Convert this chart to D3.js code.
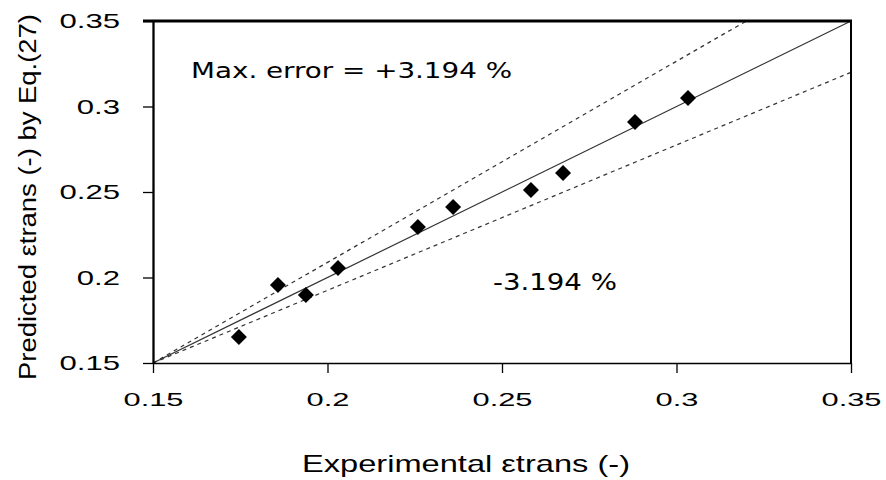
<!DOCTYPE html>
<html lang="en">
<head>
<meta charset="UTF-8">
<title>Predicted vs experimental εtrans</title>
<script src="https://d3js.org/d3.v7.min.js"></script>
<style>
  body { margin: 0; background: #fff; }
  .tick text, .title { font-family: "Liberation Sans", Arial, sans-serif; fill: #000; }
  .note { font-family: "DejaVu Sans", Verdana, sans-serif; fill: #000; }
  .ref { fill: none; stroke: #333; stroke-width: 1.2; }
  .ref.dash { stroke-dasharray: 4,4; }
</style>
</head>
<body>
<svg id="chart" width="886" height="480"></svg>
<script>
const expX  = [0.1746, 0.1858, 0.1938, 0.2030, 0.2259, 0.2360, 0.2583, 0.2675, 0.2881, 0.3033];
const predY = [0.1652, 0.1956, 0.1898, 0.2056, 0.2295, 0.2412, 0.2512, 0.2611, 0.2909, 0.3050];

const parityLine = [[0.15, 0.15], [0.35, 0.35]];
const upperLine  = [[0.15, 0.15], [0.32, 0.35]];
const lowerLine  = [[0.15, 0.15], [0.35, 0.32]];

const xTicks = [0.15, 0.2, 0.25, 0.3, 0.35];
const yTicks = [0.15, 0.2, 0.25, 0.3, 0.35];

const notes = [
  {x: 0.1609, y: 0.3167, text: "Max. error = +3.194 %", size: 22, len: 321},
  {x: 0.2474, y: 0.1927, text: "-3.194 %", size: 23, len: 124}
];

const svg = d3.select("#chart");
const margin = {top: 21, right: 35, bottom: 117, left: 153};
const width = 886, height = 480;

const x = d3.scaleLinear().domain([0.15, 0.35]).range([margin.left, width - margin.right]);
const y = d3.scaleLinear().domain([0.15, 0.35]).range([height - margin.bottom, margin.top]);

// stretch glyphs horizontally like the original raster
function stretch(sel, k) {
  sel.each(function() {
    const w = this.getComputedTextLength();
    d3.select(this).attr("textLength", w * k).attr("lengthAdjust", "spacingAndGlyphs");
  });
}

// reference lines
const line = d3.line().x(d => x(d[0])).y(d => y(d[1]));
svg.append("path").datum(parityLine).attr("class", "ref").attr("d", line);
svg.append("path").datum(upperLine).attr("class", "ref dash").attr("d", line);
svg.append("path").datum(lowerLine).attr("class", "ref dash").attr("d", line);

// points
const pts = expX.map((v, i) => [v, predY[i]]);
svg.append("g").selectAll("path")
  .data(pts)
  .join("path")
  .attr("d", d3.symbol(d3.symbolSquare, 128))
  .attr("transform", d => `translate(${x(d[0])},${y(d[1])}) rotate(45)`)
  .attr("fill", "#000");

// axes
const gx = svg.append("g")
  .attr("transform", `translate(0,${y(0.15)})`)
  .call(d3.axisBottom(x).tickValues(xTicks).tickSize(10).tickSizeOuter(0).tickPadding(20).tickFormat(d => d));
gx.select(".domain").attr("stroke-width", 1.5);
gx.selectAll(".tick line").attr("stroke-width", 1.3);
gx.selectAll(".tick text").style("font-size", "19px").call(stretch, 1.62);

const gy = svg.append("g")
  .attr("transform", `translate(${x(0.15)},0)`)
  .call(d3.axisLeft(y).tickValues(yTicks).tickSize(10).tickSizeOuter(0).tickPadding(23).tickFormat(d => d));
gy.select(".domain").attr("stroke-width", 2.3);
gy.selectAll(".tick line").attr("stroke-width", 1.3);
gy.selectAll(".tick text").style("font-size", "21px").call(stretch, 1.48);

// frame top & right
svg.append("line")
  .attr("x1", x(0.15) - 10).attr("x2", x(0.35) + 1)
  .attr("y1", y(0.35)).attr("y2", y(0.35))
  .attr("stroke", "#000").attr("stroke-width", 3);
svg.append("line")
  .attr("x1", x(0.35)).attr("x2", x(0.35))
  .attr("y1", y(0.35)).attr("y2", y(0.15))
  .attr("stroke", "#000").attr("stroke-width", 2);

// axis titles
svg.append("text")
  .attr("class", "title")
  .attr("x", 302).attr("y", 472)
  .style("font-size", "24px")
  .attr("textLength", 328).attr("lengthAdjust", "spacingAndGlyphs")
  .text("Experimental εtrans (-)");

svg.append("text")
  .attr("class", "title")
  .attr("transform", "translate(36,380) rotate(-90)")
  .style("font-size", "23px")
  .attr("textLength", 366).attr("lengthAdjust", "spacingAndGlyphs")
  .text("Predicted εtrans (-) by Eq.(27)");

// error annotations
svg.selectAll(".note")
  .data(notes)
  .join("text")
  .attr("class", "note")
  .attr("x", d => x(d.x))
  .attr("y", d => y(d.y))
  .style("font-size", d => d.size + "px")
  .attr("textLength", d => d.len)
  .attr("lengthAdjust", "spacingAndGlyphs")
  .text(d => d.text);
</script>
</body>
</html>
